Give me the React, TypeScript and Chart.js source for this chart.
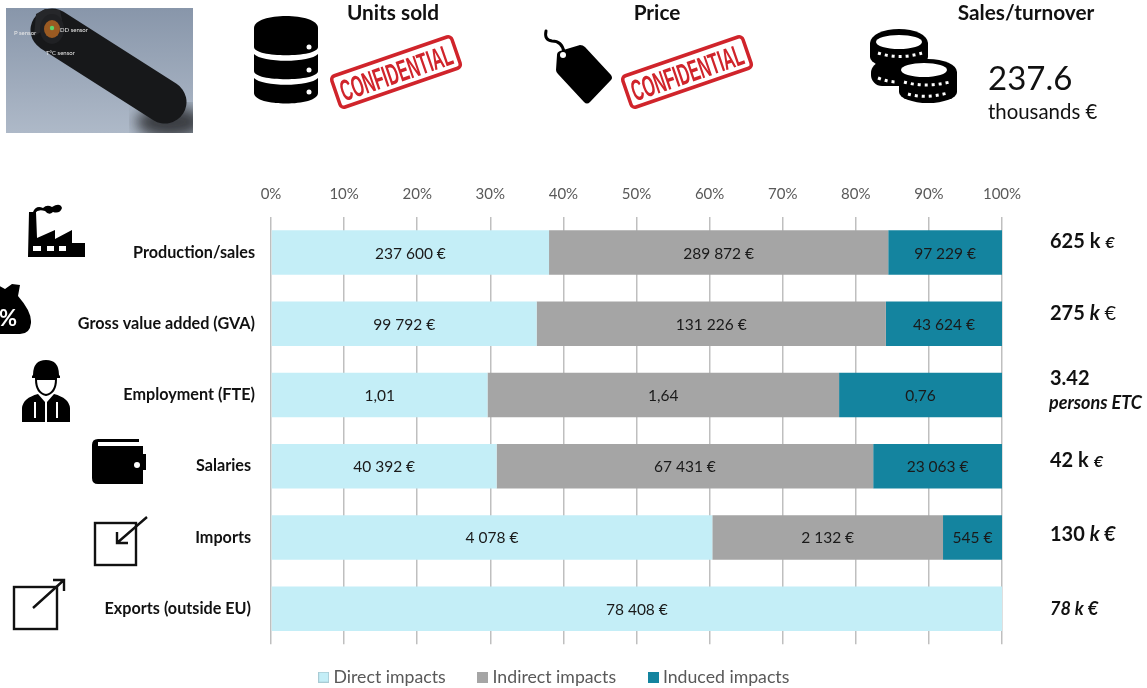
import React, { useEffect, useRef } from "react";
import { Chart, registerables } from "chart.js";

Chart.register(...registerables);

const categories = ["Production/sales", "Gross value added (GVA)", "Employment (FTE)", "Salaries", "Imports", "Exports (outside EU)"];
const categoryTrail = ["", "", "", " ", " ", " "];
const directValues = [237600, 99792, 1.01, 40392, 4078, 78408];
const indirectValues = [289872, 131226, 1.64, 67431, 2132, 0];
const inducedValues = [97229, 43624, 0.76, 23063, 545, 0];
const directLabels = ["237 600 €", "99 792 €", "1,01", "40 392 €", "4 078 €", "78 408 €"];
const indirectLabels = ["289 872 €", "131 226 €", "1,64", "67 431 €", "2 132 €", ""];
const inducedLabels = ["97 229 €", "43 624 €", "0,76", "23 063 €", "545 €", ""];
const seriesNames = ["Direct impacts", "Indirect impacts", "Induced impacts"];
const seriesColors = ["#C4EEF7", "#A5A5A5", "#14849F"];
const FONT = "Lato, 'Open Sans', sans-serif";

const share = (vals: number[], i: number) =>
  (vals[i] / (directValues[i] + indirectValues[i] + inducedValues[i])) * 100;
const shares = (vals: number[]) => vals.map((_, i) => share(vals, i));
const labelSets = [directLabels, indirectLabels, inducedLabels];

const barLabels = {
  id: "barLabels",
  afterDatasetsDraw(chart: any) {
    const ctx = chart.ctx;
    ctx.save();
    ctx.font = `15.5px ${FONT}`;
    ctx.fillStyle = "#1a1a1a";
    ctx.textAlign = "center";
    ctx.textBaseline = "middle";
    chart.data.datasets.forEach((_: any, d: number) => {
      chart.getDatasetMeta(d).data.forEach((el: any, i: number) => {
        const t = labelSets[d][i];
        if (t) ctx.fillText(t, (el.x + el.base) / 2, el.y + 1);
      });
    });
    ctx.restore();
  },
};

// The legend sits further right than Chart.js would centre it.
const legendShift = {
  id: "legendShift",
  afterLayout(chart: any) {
    const l = chart.legend;
    l.top -= 12; l.bottom -= 12; l.left += 55; l.right += 55;
  },
};

function swatch(color: string, i: number) {
  const c = document.createElement("canvas");
  c.width = 11; c.height = 11;
  const g = c.getContext("2d")!;
  g.fillStyle = color;
  g.fillRect(0, 0, 11, 11);
  if (i === 0) { g.strokeStyle = "#A9CBD4"; g.strokeRect(0.5, 0.5, 10, 10); }
  return c;
}

const abs = (left: number, top: number, extra: React.CSSProperties = {}): React.CSSProperties => ({
  position: "absolute", left, top, fontFamily: FONT, whiteSpace: "nowrap", lineHeight: 1, color: "#111", ...extra,
});

function Stamp({ x }: { x: number }) {
  return (
    <svg style={{ position: "absolute", left: x, top: 26.5 }} width={140} height={90} viewBox="0 0 140 90">
      <g transform="rotate(-19 70 45)">
        <rect x={6.5} y={28.5} width={127} height={33} rx={4} fill="none" stroke="#D0242B" strokeWidth={3.5} />
        <text x={70} y={56} textAnchor="middle" fontFamily="'Liberation Sans Narrow', 'Liberation Sans'" fontWeight={700} fontSize={30} fill="#D0242B" textLength={117} lengthAdjust="spacingAndGlyphs">CONFIDENTIAL</text>
      </g>
    </svg>
  );
}

function Icons() {
  return (
    <svg style={{ position: "absolute", left: 0, top: 0 }} width={1147} height={688}>
      <defs>
        <linearGradient id="bg" x1="0" y1="0" x2="0" y2="1">
          <stop offset="0" stopColor="#8896AA" />
          <stop offset="1" stopColor="#AEB9C8" />
        </linearGradient>
        <filter id="blur"><feGaussianBlur stdDeviation="7" /></filter>
        <clipPath id="photo"><rect x={6} y={8} width={187} height={125} /></clipPath>
      </defs>
      {/* product photo */}
      <rect x={6} y={8} width={187} height={125} fill="url(#bg)" />
      <g clipPath="url(#photo)">
        <ellipse cx={170} cy={122} rx={34} ry={16} fill="#3a3d42" filter="url(#blur)" />
        <path d="M52 30 L165 102" stroke="#17181a" strokeWidth={43} strokeLinecap="round" />
        <path d="M36 14 L45 9 L60 10 L62 20 L34 36 Z" fill="#26272a" />
        <ellipse cx={52} cy={29} rx={12} ry={15} fill="#202124" />
        <ellipse cx={52} cy={29} rx={8} ry={9} fill="#9A5A22" />
        <circle cx={52} cy={28} r={2.2} fill="#5CD46A" />
      </g>
      <text x={14} y={35} fontSize={6} fill="#e8e8e8" fontFamily={FONT}>P sensor</text>
      <text x={60} y={32} fontSize={6} fill="#e8e8e8" fontFamily={FONT}>DD sensor</text>
      <text x={46} y={55} fontSize={6} fill="#e8e8e8" fontFamily={FONT}>T°C sensor</text>
      {/* database */}
      <g fill="#000">
        <path d="M254 28 C254 12 318 12 318 28 V47 C318 58 254 58 254 47 Z" />
        <path d="M254 54 C262 63 310 63 318 54 V71 C318 82 254 82 254 71 Z" />
        <path d="M254 78 C262 87 310 87 318 78 V93 C318 107 254 107 254 93 Z" />
      </g>
      <circle cx={309} cy={47} r={2.5} fill="#fff" /><circle cx={309} cy={70} r={2.5} fill="#fff" /><circle cx={309} cy={92} r={2.5} fill="#fff" />
      {/* tag */}
      <path d="M560 51 L580 45 Q583 45 585 47 L611 75 Q613 78 611 80 L590 102 Q587 105 584 102 L558 74 Q556 72 556 70 L557 55 Q557 52 560 51 Z" fill="#000" />
      <path d="M546 31 Q544 40 552 41 Q562 41 564 52" fill="none" stroke="#000" strokeWidth={3} strokeLinecap="round" />
      <circle cx={563} cy={55} r={3} fill="#fff" />
      {/* coins */}
      <g fill="#000">
        <ellipse cx={899} cy={43} rx={29} ry={14} />
        <rect x={870} y={43} width={58} height={14} />
        <ellipse cx={899} cy={57} rx={29} ry={11} />
        <rect x={871} y={62} width={54} height={24} rx={11} />
        <ellipse cx={928} cy={72} rx={29} ry={13} />
        <rect x={899} y={72} width={58} height={20} />
        <ellipse cx={928} cy={92} rx={29} ry={11} />
      </g>
      <ellipse cx={899} cy={42} rx={23} ry={7} fill="#fff" /><ellipse cx={924} cy={70} rx={23} ry={7} fill="#fff" />
      <g stroke="#fff" strokeWidth={3} strokeDasharray="3 4" fill="none">
        <path d="M878 53 Q899 60 922 53" /><path d="M878 78 Q888 82 898 82" /><path d="M904 82 Q925 88 950 82" /><path d="M908 94 Q925 99 948 93" />
      </g>
      {/* factory */}
      <path d="M29 212 L36 212 L37 238 L55 230 L55 239 L72 230 L72 243 L85 243 L85 257 L28 257 Z" fill="#000" />
      <path d="M33 212 Q36 205 43 208 Q47 204 52 207 Q60 202 62 208 Q60 214 53 212 Q49 216 45 211 Q38 209 35 213 Z" fill="#000" />
      <g fill="#fff"><rect x={33} y={246} width={8} height={5} /><rect x={47} y={246} width={7} height={5} /><rect x={59} y={246} width={7} height={5} /></g>
      {/* money bag */}
      <path d="M-4 284 L5 289 L12 284 L20 285 L18 296 Q32 312 31 323 Q30 334 20 334 L-10 334 L-10 296 Z" fill="#000" />
      <text x={8} y={326} textAnchor="middle" fontSize={22} fontWeight={700} fill="#fff" fontFamily={FONT}>%</text>
      {/* worker */}
      <path d="M33 375 Q33 360 46 360 Q59 360 59 375 L60 376 L60 378 L32 378 L32 376 Z" fill="#000" />
      <path d="M36 379 H56 Q56 393 46 395 Q36 393 36 379 Z" fill="#fff" stroke="#000" strokeWidth={2} />
      <path d="M22 408 Q23 398 38 394 L45 402 L45 422 L22 422 Z M70 408 Q69 398 54 394 L47 402 L47 422 L70 422 Z" fill="#000" />
      <path d="M35 402 V418 M57 402 V418" stroke="#fff" strokeWidth={2} />
      {/* wallet */}
      <path d="M92 445 Q92 439 98 439 H139 V442 H98 V446 H143 V454 H146 V470 H143 V484 H98 Q92 484 92 478 Z" fill="#000" />
      <circle cx={137} cy={465} r={3} fill="#fff" />
      {/* import */}
      <g fill="none" stroke="#111" strokeWidth={2.4}>
        <rect x={95} y={523} width={41} height={42} />
        <path d="M147 517 L117 543 M117 532 V543 H128" />
      </g>
      {/* export */}
      <g fill="none" stroke="#111" strokeWidth={2.4}>
        <rect x={14} y={587} width={43} height={42} />
        <path d="M33 608 L64 580 M53 580 H64 V591" />
      </g>
    </svg>
  );
}

function Annotations() {
  const title: React.CSSProperties = { fontWeight: 700, fontSize: 20.8, transform: "translateX(-50%)" };
  const side: React.CSSProperties = { fontWeight: 700, fontSize: 20 };
  return (
    <>
      <div style={abs(393, 2, title)}>Units sold</div>
      <div style={abs(657, 2, title)}>Price</div>
      <div style={abs(1026, 2, title)}>Sales/turnover</div>
      <div style={abs(988, 61, { fontSize: 33 })}>237.6</div>
      <div style={abs(988, 101, { fontSize: 20.4 })}>thousands €</div>
      <div style={abs(1050, 230, side)}>625 k <em style={{ fontSize: 16 }}>€</em></div>
      <div style={abs(1050, 302, side)}>275 <em>k</em> <span style={{ fontWeight: 400, fontStyle: "normal" }}>€</span></div>
      <div style={abs(1050, 367, side)}>3.42</div>
      <div style={abs(1049, 393, { fontWeight: 700, fontStyle: "italic", fontSize: 18 })}>persons ETC</div>
      <div style={abs(1050, 449, side)}>42 k <em style={{ fontSize: 16 }}>€</em></div>
      <div style={abs(1050, 523, side)}>130 <em>k €</em></div>
      <div style={abs(1050, 599, { fontWeight: 700, fontStyle: "italic", fontSize: 18 })}>78 k €</div>
    </>
  );
}

export default function App() {
  const ref = useRef<HTMLCanvasElement | null>(null);
  useEffect(() => {
    const makeDs = (i: number, vals: number[]) => ({
      label: seriesNames[i],
      data: shares(vals),
      backgroundColor: seriesColors[i],
      borderWidth: 0,
      categoryPercentage: 1,
      barPercentage: 0.625,
    });
    const chart = new Chart(ref.current!, {
      type: "bar",
      data: {
        labels: categories,
        datasets: [makeDs(0, directValues), makeDs(1, indirectValues), makeDs(2, inducedValues)],
      },
      plugins: [barLabels, legendShift],
      options: {
        indexAxis: "y",
        animation: false,
        responsive: false,
        layout: { padding: { left: 0, right: 145, top: 0, bottom: -20 } },
        scales: {
          x: {
            position: "top",
            stacked: true,
            min: 0,
            max: 100,
            afterFit: (s: any) => { s.height = 217; },
            grid: { color: "#BFBFBF", lineWidth: 1.5, drawTicks: false, drawOnChartArea: true },
            border: { display: false },
            ticks: { stepSize: 10, padding: 14, maxRotation: 0, color: "#595959", font: { family: FONT, size: 15 }, callback: (v: any) => `${v}%` },
          },
          y: {
            stacked: true,
            afterFit: (s: any) => { s.width = 271; },
            grid: { display: false },
            border: { display: false },
            ticks: {
              padding: 8,
              color: "#111",
              font: { family: FONT, size: 16.2, weight: "bold" },
              callback: (_: any, i: number) => categories[i] + categoryTrail[i],
            },
          },
        },
        plugins: {
          tooltip: { enabled: false },
          legend: {
            position: "bottom",
            labels: {
              usePointStyle: true,
              pointStyleWidth: 2,
              boxHeight: 11,
              padding: 36,
              color: "#595959",
              font: { family: FONT, size: 17.7 },
              generateLabels: (c: any) =>
                Chart.defaults.plugins.legend.labels.generateLabels(c).map((it: any, i: number) => ({
                  ...it,
                  pointStyle: swatch(seriesColors[i], i),
                })),
            },
          },
        },
      },
    } as any);
    return () => chart.destroy();
  }, []);
  return (
    <div style={{ position: "absolute", left: 0, top: 0, width: 1147, height: 688, overflow: "hidden", background: "#fff" }}>
      <canvas ref={ref} width={1147} height={688} style={{ position: "absolute", left: 0, top: 0 }} />
      <Icons />
      <Stamp x={326} />
      <Stamp x={617} />
      <Annotations />
    </div>
  );
}
